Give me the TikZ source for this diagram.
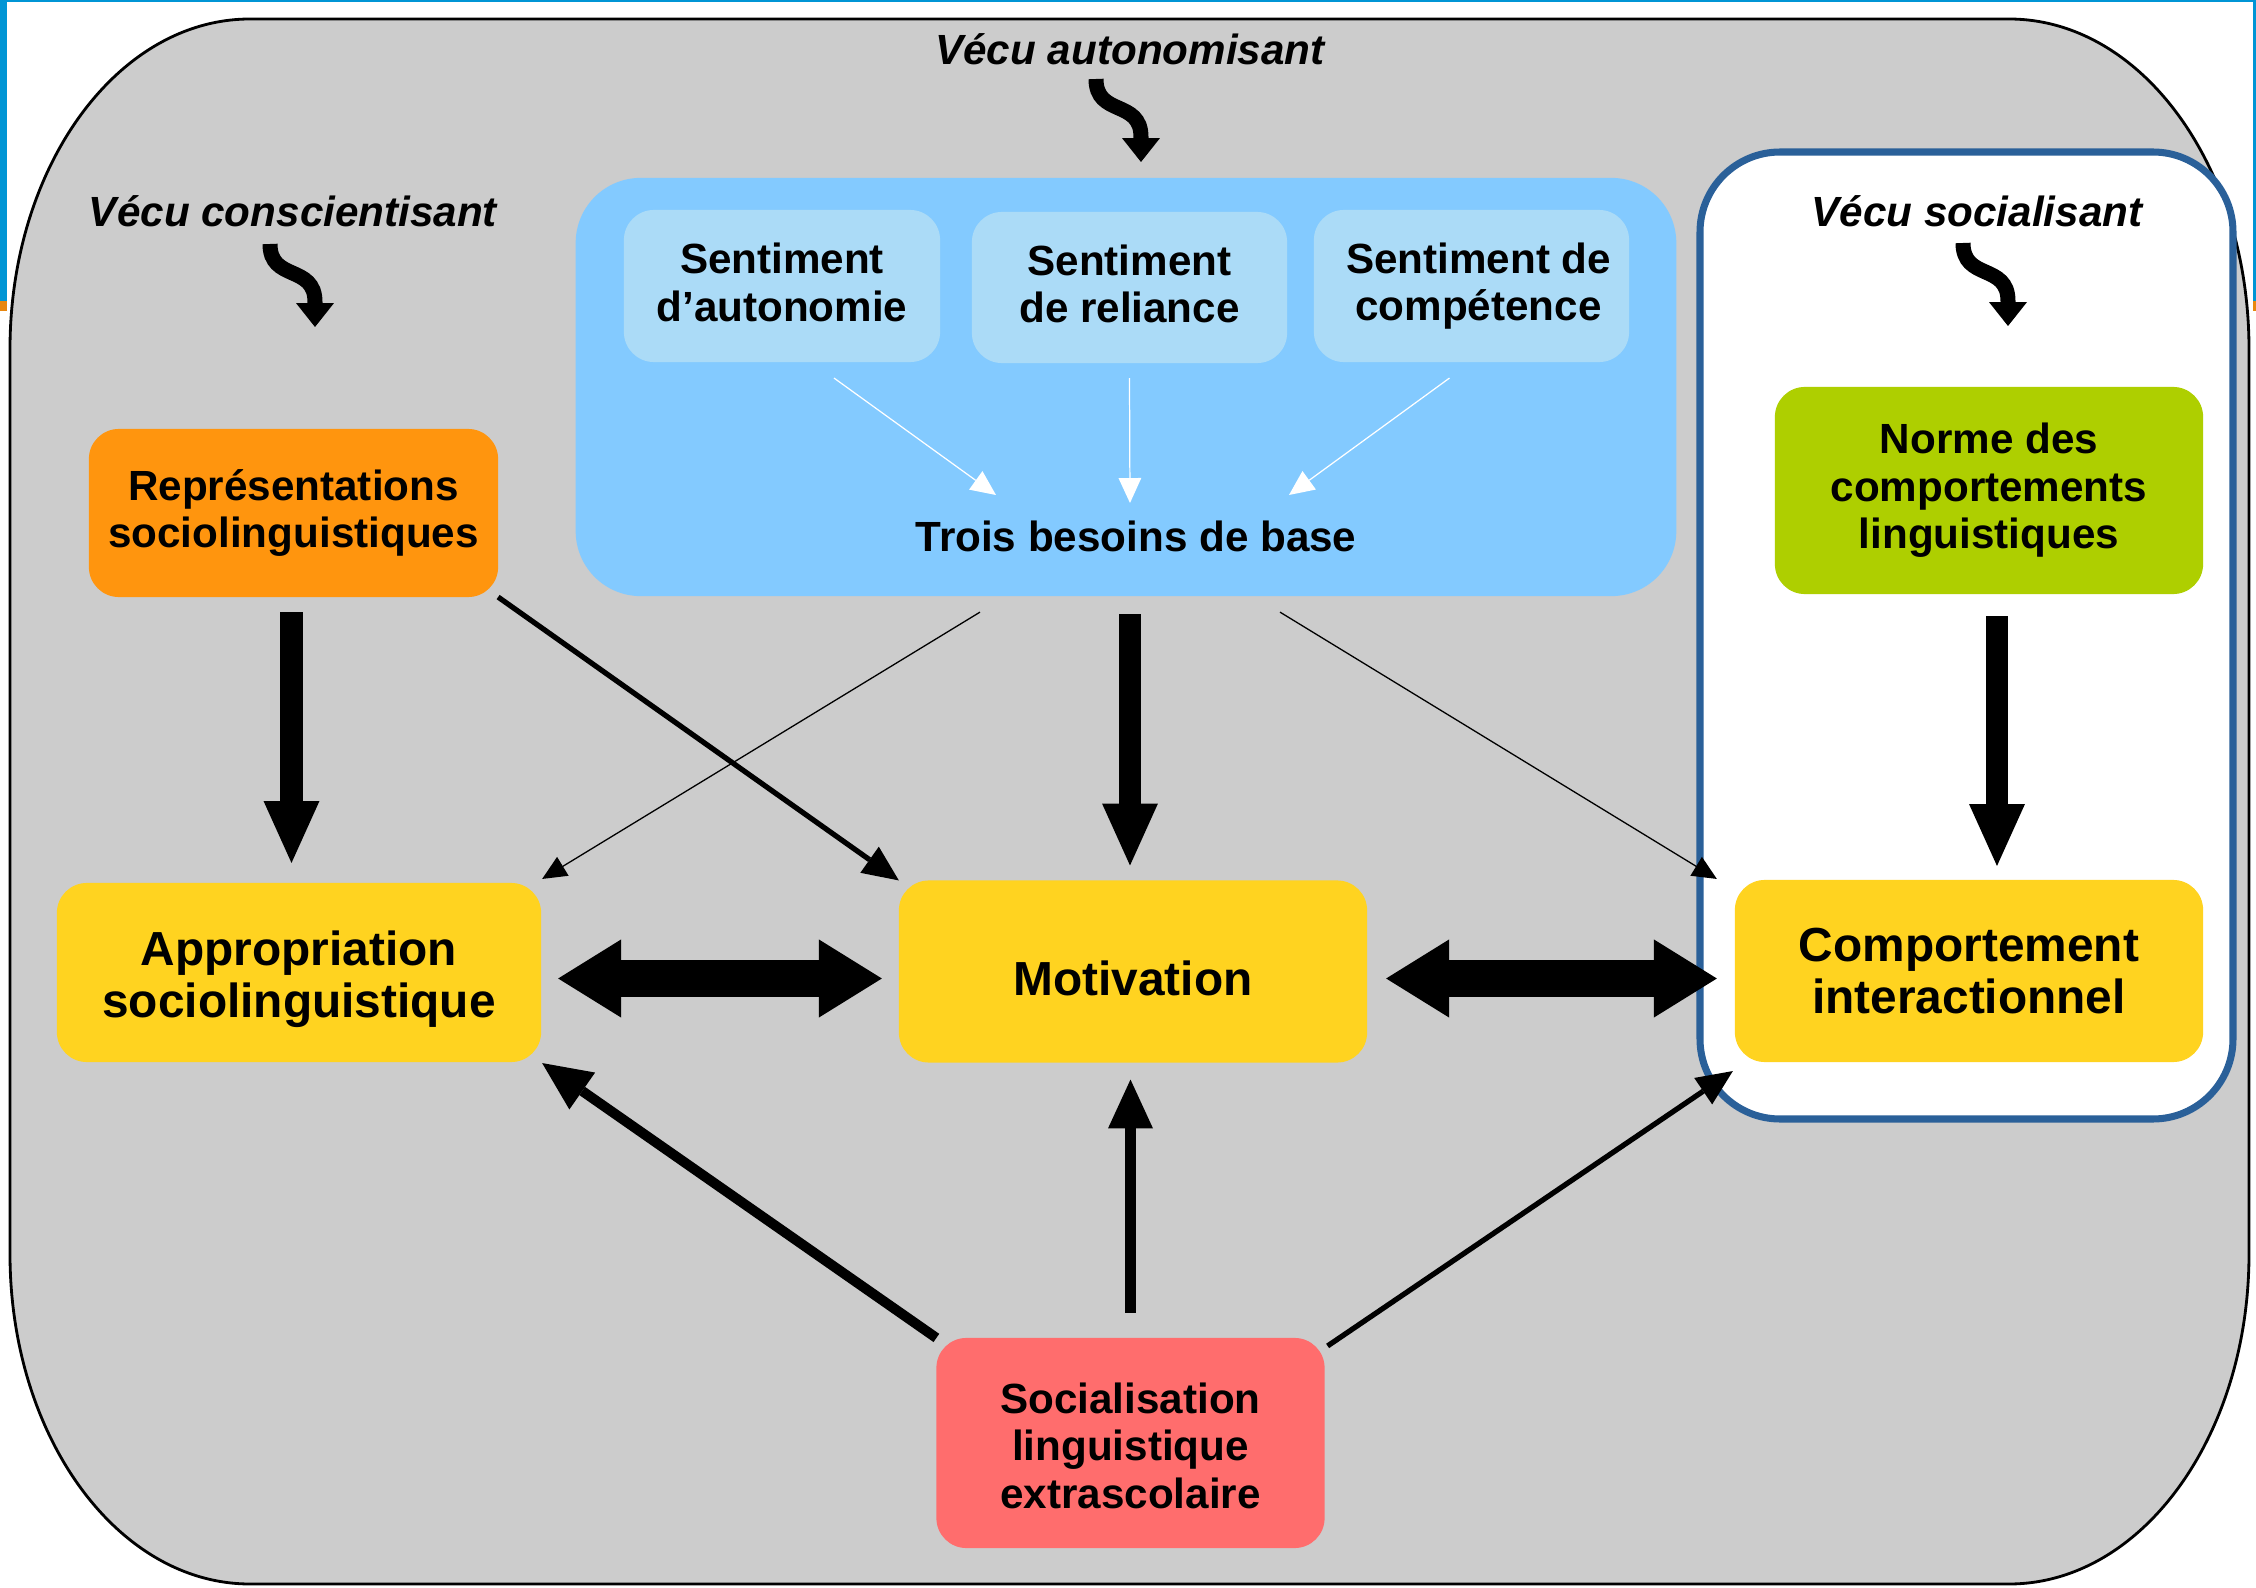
\documentclass[tikz,border=0pt]{standalone}
\usepackage{fontspec}
\setmainfont{Liberation Sans}
\usepackage{xcolor}
\usepackage{tikz}
\usetikzlibrary{arrows.meta,calc}

\definecolor{fondgris}{HTML}{CCCCCC}
\definecolor{bleuclair}{HTML}{83CAFF}
\definecolor{bleupale}{HTML}{ABDBF7}
\definecolor{orangebox}{HTML}{FF950E}
\definecolor{vertbox}{HTML}{AECF00}
\definecolor{jaunebox}{HTML}{FFD320}
\definecolor{rougebox}{HTML}{FF6D6D}
\definecolor{bleubord}{HTML}{2A6099}
\definecolor{bleucadre}{HTML}{0095D5}
\definecolor{orangecadre}{HTML}{E8870F}

\newcommand{\decale}[2]{\raisebox{#1}[\height][\depth]{#2}}

\tikzset{
  boite/.style={rectangle,rounded corners=0.3cm,inner sep=0pt,outer sep=0pt,
    align=center,font=\bfseries\fontsize{12}{13.5}\selectfont},
  grande/.style={boite,font=\bfseries\fontsize{13.6}{14.8}\selectfont},
  titre/.style={font=\bfseries\itshape\fontsize{12}{13.5}\selectfont},
  tortue/.style={line width=4.27pt,-{Triangle[length=6.8pt,width=10.8pt,line width=0pt]}},
  fleche/.style={line width=6.26pt,-{Triangle[length=17.6pt,width=15.9pt,line width=0pt]}},
  dfleche/.style={line width=10.8pt,
    {Triangle[length=17.9pt,width=22.2pt,line width=0pt]}-{Triangle[length=17.9pt,width=22.2pt,line width=0pt]}},
  moyenne/.style={line width=1.5pt,-{Triangle[length=10.2pt,width=9.1pt,line width=0pt]}},
  forte/.style={line width=2.85pt,-{Triangle[length=13.9pt,width=12.8pt,line width=0pt]}},
  fine/.style={line width=0.37pt,-{Triangle[length=6.9pt,width=6.3pt,line width=0pt]}},
  blanche/.style={white,line width=0.35pt,-{Triangle[length=7.1pt,width=6.5pt,line width=0pt]}}
}

\begin{document}
\begin{tikzpicture}[x=0.01cm,y=-0.01cm]
  \def \DX {45}
  \useasboundingbox (0,0) rectangle (2256,1588);
  \fill[white] (0,0) rectangle (2256,1588);
  \fill[bleucadre] (0,0) rectangle (2256,2.5);
  \fill[bleucadre] (0,0) rectangle (6.5,301);
  \fill[bleucadre] (2252.5,0) rectangle (2256,301);
  \fill[orangecadre] (0,301) rectangle (6.5,311);
  \fill[orangecadre] (2252.5,301) rectangle (2256,311);

  % fond gris
  \draw[line width=0.8pt,fill=fondgris] (250,19) -- (2009,19)
    .. controls (2141.6,19) and (2249,166.7) .. (2249,349)
    -- (2249,1254) .. controls (2249,1436.3) and (2141.6,1584) .. (2009,1584)
    -- (250,1584) .. controls (117.4,1584) and (10,1436.3) .. (10,1254)
    -- (10,349) .. controls (10,166.7) and (117.4,19) .. (250,19) -- cycle;

  % cadre socialisant
  \draw[bleubord,line width=2pt,fill=white,rounded corners=0.8cm]
    (1700,152) rectangle (2233,1119);

  % besoins de base
  \node[boite,fill=bleuclair,rounded corners=0.65cm,minimum width=11.0cm,
    minimum height=4.18cm] (blue) at (1126,387) {};
  \node[boite,fill=bleupale,minimum width=3.16cm,minimum height=1.52cm]
    (aut) at (782,286) {\decale{1pt}{Sentiment}\\\decale{1pt}{d’autonomie}};
  \node[boite,fill=bleupale,minimum width=3.15cm,minimum height=1.51cm]
    (rel) at (1129.5,287.5) {\decale{1pt}{Sentiment}\\\decale{1pt}{de reliance}};
  \node[boite,fill=bleupale,minimum width=3.15cm,minimum height=1.52cm]
    (cpt) at (1471.5,286) {\hspace*{4pt}Sentiment de\\\hspace*{4pt}compétence};
  \node[boite] (besoins) at (1136,536) {Trois besoins de base};

  \node[titre] (vaut) at (1130,49) {Vécu autonomisant};
  \node[titre] (vcon) at (293,211) {Vécu conscientisant};
  \node[titre] (vsoc) at (1977,211) {Vécu socialisant};
  \foreach \sx/\sy in {270/244,1096/79,1963/243}
    \draw[tortue] (\sx,\sy) .. controls (\sx,\sy+38) and (\sx+\DX,\sy+20)
      .. (\sx+\DX,\sy+58) -- (\sx+\DX,\sy+83);

  \node[boite,fill=orangebox,minimum width=4.09cm,minimum height=1.68cm]
    (rep) at (293.5,513) {Représentations\\sociolinguistiques};
  \node[boite,fill=vertbox,minimum width=4.28cm,minimum height=2.07cm]
    (norme) at (1989,490.5) {Norme des\\comportements\\linguistiques};
  \node[grande,fill=jaunebox,minimum width=4.84cm,minimum height=1.79cm]
    (appr) at (299,972.5) {\decale{-2pt}{Appropriation}\\\decale{-2pt}{sociolinguistique}};
  \node[grande,fill=jaunebox,minimum width=4.68cm,minimum height=1.82cm]
    (mot) at (1133,971.5) {\decale{-2pt}{Motivation}};
  \node[grande,fill=jaunebox,minimum width=4.68cm,minimum height=1.82cm]
    (comp) at (1969,971) {Comportement\\interactionnel};
  \node[boite,fill=rougebox,minimum width=3.88cm,minimum height=2.10cm]
    (soc) at (1130.5,1443) {\decale{-0.8pt}{Socialisation}\\\decale{-0.8pt}{linguistique}\\\decale{-0.8pt}{extrascolaire}};

  % fleches
  \draw[blanche] ($(aut.south)+(52,16)$) -- ($(besoins.center)+(-140,-41)$);
  \draw[blanche] ($(rel.south)+(0,15)$) -- ($(besoins.center)+(-6,-33)$);
  \draw[blanche] ($(cpt.south)+(-22,16)$) -- ($(besoins.center)+(153,-41)$);

  \draw[fleche] ($(rep.south)+(-2,15)$) -- ($(rep.south |- appr.north)+(-2,-20)$);
  \draw[fleche] ($(mot.north |- blue.south)+(-3,18)$) -- ($(mot.north)+(-3,-15)$);
  \draw[fleche] ($(norme.south)+(8,22)$) -- ($(norme.south |- comp.north)+(8,-14)$);

  \draw[moyenne] (rep.south east) -- (mot.north west);
  \draw[fine] ($(blue.south)+(-146,16)$) -- ($(appr.north east)+(1,-4)$);
  \draw[fine] ($(blue.south)+(154,16)$) -- ($(comp.north west)+(-18,-1)$);

  \draw[dfleche] ($(appr.east)+(17,6)$) -- ($(appr.east -| mot.west)+(-17,6)$);
  \draw[dfleche] ($(mot.east)+(19,7)$) -- ($(mot.east -| comp.west)+(-18,7)$);

  \draw[forte] (soc.north west) -- ($(appr.south east)+(1,1)$);
  \draw[forte,line width=3.1pt] ($(soc.north)+(0,-25)$) -- ($(soc.north |- mot.south)+(0,17)$);
  \draw[moyenne] ($(soc.north east)+(3,8)$) -- ($(comp.south west)+(-2,9)$);
\end{tikzpicture}
\end{document}
